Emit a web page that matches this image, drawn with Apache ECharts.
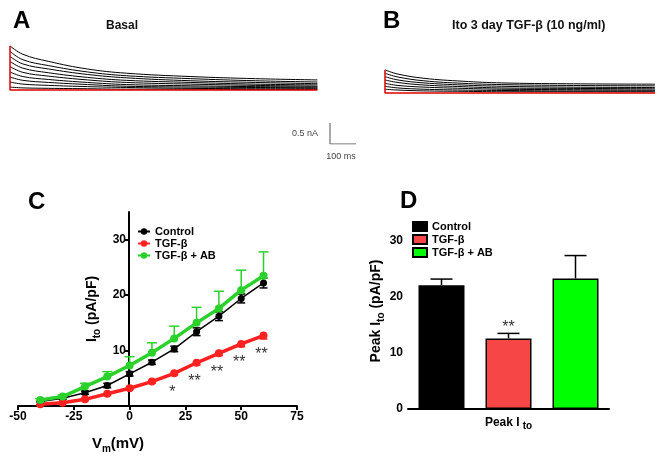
<!DOCTYPE html>
<html>
<head>
<meta charset="utf-8">
<script src="https://cdn.jsdelivr.net/npm/echarts@6/dist/echarts.min.js"></script>
<style>html,body{margin:0;padding:0;background:#fff}#container{width:661px;height:456px}</style>
</head>
<body>
<div id="container"></div>
<script>
// panels A / B : current traces (nA) read at these times (ms)
var traceTimeA = [0, 50, 150, 300, 450, 700, 950, 1190];
var tracesA = [
  [1.05, 0.85, 0.68, 0.50, 0.40, 0.32, 0.27, 0.24],
  [0.92, 0.72, 0.58, 0.43, 0.34, 0.27, 0.22, 0.19],
  [0.80, 0.62, 0.50, 0.37, 0.29, 0.22, 0.18, 0.15],
  [0.68, 0.52, 0.41, 0.30, 0.23, 0.18, 0.14, 0.12],
  [0.56, 0.42, 0.33, 0.24, 0.18, 0.14, 0.11, 0.09],
  [0.43, 0.32, 0.25, 0.18, 0.13, 0.10, 0.08, 0.07],
  [0.31, 0.23, 0.18, 0.13, 0.09, 0.07, 0.06, 0.05],
  [0.19, 0.14, 0.11, 0.08, 0.06, 0.04, 0.03, 0.03],
  [0.07, 0.05, 0.04, 0.03, 0.02, 0.02, 0.01, 0.01]
];
var traceTimeB = [0, 50, 150, 300, 450, 700, 1040];
var tracesB = [
  [0.55, 0.45, 0.35, 0.28, 0.24, 0.22, 0.21],
  [0.47, 0.38, 0.29, 0.23, 0.20, 0.18, 0.17],
  [0.39, 0.31, 0.24, 0.19, 0.16, 0.14, 0.13],
  [0.31, 0.25, 0.19, 0.15, 0.12, 0.11, 0.10],
  [0.23, 0.18, 0.14, 0.11, 0.09, 0.08, 0.07],
  [0.16, 0.12, 0.09, 0.07, 0.06, 0.05, 0.05],
  [0.09, 0.07, 0.05, 0.04, 0.03, 0.03, 0.03]
];
var scaleBar = [100, 0.5]; // ms, nA

// panel C : I-V curves
var vm = [-40, -30, -20, -10, 0, 10, 20, 30, 40, 50, 60];
var control = [0.8, 1.4, 2.4, 3.7, 5.8, 7.9, 10.3, 13.4, 16.2, 19.4, 22.2];
var controlErr = [0.1, 0.2, 0.3, 0.4, 0.4, 0.4, 0.5, 0.7, 0.8, 0.8, 0.9];
var tgf = [0.3, 0.6, 1.2, 2.2, 3.2, 4.4, 5.9, 7.8, 9.5, 11.2, 12.7];
var tgfErr = [0.1, 0.1, 0.2, 0.2, 0.2, 0.3, 0.3, 0.4, 0.4, 0.5, 0.6];
var tgfAB = [1.1, 1.7, 3.5, 5.3, 7.3, 9.6, 12.2, 15.0, 17.6, 20.9, 23.5];
var tgfABErr = [0.2, 0.3, 0.6, 0.9, 1.6, 1.8, 2.2, 2.8, 3.1, 3.6, 4.3];
var sigC = ['', '', '', '', '', '', '*', '**', '**', '**', '**'];

// panel D : peak Ito
var groups = ['Control', 'TGF-β', 'TGF-β + AB'];
var peak = [22.1, 12.6, 23.3];
var peakErr = [1.1, 0.9, 4.1];
var sigD = ['', '**', ''];

var FONT = 'Liberation Sans';
var colC = ['#000000', '#ff2020', '#2ad12a'];
var colD = ['#000000', '#f64646', '#00ff00'];

var dom = document.getElementById('container');
var myChart = echarts.init(dom);

function traceSeries(times, vals, gi) {
  return {
    type: 'line', xAxisIndex: gi, yAxisIndex: gi, silent: true,
    showSymbol: false, smooth: 0.4, animation: false,
    lineStyle: { color: '#000', width: 1 },
    data: times.map(function (t, i) { return [t, vals[i]]; })
  };
}

function seg(x1, y1, x2, y2, color, w) {
  return { type: 'line', shape: { x1: x1, y1: y1, x2: x2, y2: y2 }, style: { stroke: color, lineWidth: w } };
}

function errC(ys, errs, up, down, color, w, cap, sig) {
  return {
    type: 'custom', xAxisIndex: 3, yAxisIndex: 3, silent: true,
    data: vm.map(function (x, i) { return [x, ys[i], errs[i]]; }),
    renderItem: function (params, api) {
      var x = api.value(0), y = api.value(1), e = api.value(2);
      var p = api.coord([x, y]);
      var kids = [];
      if (up) {
        var t = api.coord([x, y + e]);
        kids.push(seg(p[0], p[1], p[0], t[1], color, w), seg(p[0] - cap, t[1], p[0] + cap, t[1], color, w));
      }
      if (down) {
        var b = api.coord([x, y - e]);
        kids.push(seg(p[0], p[1], p[0], b[1], color, w), seg(p[0] - cap, b[1], p[0] + cap, b[1], color, w));
      }
      if (sig && sig[params.dataIndex]) {
        kids.push({ type: 'text', style: { text: sig[params.dataIndex], x: p[0] - 2, y: p[1] + 19,
          align: 'center', verticalAlign: 'middle', font: '16px ' + FONT, fill: '#333' } });
      }
      return { type: 'group', children: kids };
    }
  };
}

var lineSeries = [control, tgf, tgfAB].map(function (ys, k) {
  return {
    name: groups[k], type: 'line', xAxisIndex: 3, yAxisIndex: 3,
    symbol: 'circle', symbolSize: k === 0 ? 7 : 8,
    itemStyle: { color: colC[k] },
    lineStyle: { color: colC[k], width: k === 0 ? 1.5 : 3.5 },
    data: vm.map(function (x, i) { return [x, ys[i]]; })
  };
});

var barW = 46, barGapPx = 21;

var series = [];
tracesA.forEach(function (v) { series.push(traceSeries(traceTimeA, v, 0)); });
series.push({
  type: 'line', xAxisIndex: 0, yAxisIndex: 0, showSymbol: false, silent: true,
  lineStyle: { color: '#e00000', width: 1.5 },
  data: [[0, tracesA[0][0]], [0, 0], [traceTimeA[traceTimeA.length - 1], 0]]
});
tracesB.forEach(function (v) { series.push(traceSeries(traceTimeB, v, 1)); });
series.push({
  type: 'line', xAxisIndex: 1, yAxisIndex: 1, showSymbol: false, silent: true,
  lineStyle: { color: '#e00000', width: 1.5 },
  data: [[0, tracesB[0][0]], [0, 0], [traceTimeB[traceTimeB.length - 1], 0]]
});
series.push({
  type: 'line', xAxisIndex: 2, yAxisIndex: 2, showSymbol: false, silent: true,
  lineStyle: { color: '#555', width: 1 },
  data: [[0, scaleBar[1]], [0, 0], [scaleBar[0], 0]]
});
series.push(lineSeries[0], errC(control, controlErr, true, true, colC[0], 1.5, 4));
series.push(lineSeries[1], errC(tgf, tgfErr, false, true, colC[1], 1.5, 4, sigC));
series.push(lineSeries[2], errC(tgfAB, tgfABErr, true, false, colC[2], 1.5, 5));
groups.forEach(function (g, i) {
  series.push({
    name: 'D:' + g, type: 'bar', xAxisIndex: 4, yAxisIndex: 4,
    barWidth: barW, barGap: (barGapPx / barW * 100) + '%',
    itemStyle: { color: colD[i], borderColor: '#000', borderWidth: 1.5 },
    data: [peak[i]]
  });
});
series.push({
  type: 'custom', xAxisIndex: 4, yAxisIndex: 4, silent: true,
  data: peak.map(function (v, i) { return [0, v, peakErr[i]]; }),
  renderItem: function (params, api) {
    var i = params.dataIndex;
    var off = (i - 1) * (barW + barGapPx);
    var p = api.coord([0, api.value(1)]);
    var t = api.coord([0, api.value(1) + api.value(2)]);
    var x = p[0] + off;
    var kids = [seg(x, p[1], x, t[1], '#000', 1.5), seg(x - 11, t[1], x + 11, t[1], '#000', 1.5)];
    if (sigD[i]) {
      kids.push({ type: 'text', style: { text: sigD[i], x: x, y: t[1] - 6, align: 'center',
        verticalAlign: 'middle', font: '16px ' + FONT, fill: '#333' } });
    }
    return { type: 'group', children: kids };
  }
});

var labelStyle = { fontFamily: FONT, fontWeight: 'bold', fontSize: 12, color: '#000' };
var axisLine = { lineStyle: { color: '#000', width: 2 } };
var nameRich = {
  a: { fontFamily: FONT, fontWeight: 'bold', fontSize: 14, color: '#000', lineHeight: 20, verticalAlign: 'middle' },
  b: { fontFamily: FONT, fontWeight: 'bold', fontSize: 10, color: '#000', lineHeight: 10, verticalAlign: 'bottom' }
};

var option = {
  animation: false,
  backgroundColor: '#fff',
  grid: [
    { left: 10, top: 43.8, width: 310, height: 50.4, outerBoundsMode: 'none', containLabel: false },
    { left: 385, top: 46.8, width: 270, height: 50.4, outerBoundsMode: 'none', containLabel: false },
    { left: 330, top: 123, width: 26, height: 21, outerBoundsMode: 'none', containLabel: false },
    { left: 18, top: 212, width: 279, height: 194, outerBoundsMode: 'none', containLabel: false },
    { left: 408, top: 213, width: 201, height: 196, outerBoundsMode: 'none', containLabel: false }
  ],
  xAxis: [
    { gridIndex: 0, type: 'value', min: 0, max: 1200, show: false },
    { gridIndex: 1, type: 'value', min: 0, max: 1040, show: false },
    { gridIndex: 2, type: 'value', min: 0, max: 100, show: false },
    {
      gridIndex: 3, type: 'value', min: -50, max: 75, interval: 25,
      axisLine: Object.assign({ onZero: false }, axisLine), splitLine: { show: false },
      axisTick: { length: 4, lineStyle: { width: 2, color: '#000' } },
      axisLabel: Object.assign({ margin: 5 }, labelStyle)
    },
    {
      gridIndex: 4, type: 'category', data: ['Peak I'],
      axisLine: axisLine,
      axisTick: { alignWithLabel: true, length: 4, lineStyle: { width: 2, color: '#000' } },
      axisLabel: {
        margin: 6,
        formatter: function (v) { return '{a|' + v + '}{b|to}'; },
        rich: {
          a: { fontFamily: FONT, fontWeight: 'bold', fontSize: 12, color: '#000', lineHeight: 16 },
          b: { fontFamily: FONT, fontWeight: 'bold', fontSize: 10, color: '#000', lineHeight: 10, verticalAlign: 'bottom', padding: [0, 0, 0, 3] }
        }
      }
    }
  ],
  yAxis: [
    { gridIndex: 0, type: 'value', min: -0.1, max: 1.1, show: false },
    { gridIndex: 1, type: 'value', min: -0.1, max: 1.1, show: false },
    { gridIndex: 2, type: 'value', min: 0, max: 0.5, show: false },
    {
      // y axis drawn at Vm = 0 mV
      gridIndex: 3, type: 'value', min: 0, max: 35, position: 'left', offset: -111,
      axisLine: Object.assign({ onZero: false }, axisLine), splitLine: { show: false },
      axisTick: { length: 4, customValues: [10, 20, 30], lineStyle: { width: 2, color: '#000' } },
      axisLabel: Object.assign({ margin: 3, customValues: [10, 20, 30] }, labelStyle),
      name: '{a|I}{b|to}{a| (pA/pF)}', nameLocation: 'middle', nameRotate: 90, nameGap: 27,
      nameTextStyle: { rich: nameRich }
    },
    {
      gridIndex: 4, type: 'value', min: 0, max: 35,
      axisLine: axisLine, splitLine: { show: false },
      axisTick: { length: 4, customValues: [0, 10, 20, 30], lineStyle: { width: 2, color: '#000' } },
      axisLabel: Object.assign({ margin: 5, customValues: [0, 10, 20, 30] }, labelStyle),
      name: '{a|Peak I}{b|to}{a| (pA/pF)}', nameLocation: 'middle', nameRotate: 90, nameGap: 20,
      nameTextStyle: { rich: nameRich }
    }
  ],
  legend: [
    {
      data: groups, orient: 'vertical', left: 137, top: 226, itemWidth: 12, itemHeight: 8, itemGap: 1, padding: 0,
      selectedMode: false, textStyle: { fontFamily: FONT, fontWeight: 'bold', fontSize: 11, color: '#000' }
    },
    {
      data: groups.map(function (g) { return { name: 'D:' + g, icon: 'rect' }; }),
      formatter: function (n) { return n.slice(2); },
      orient: 'vertical', left: 412, top: 221, itemWidth: 14, itemHeight: 9, itemGap: 2, padding: 0,
      selectedMode: false, textStyle: { fontFamily: FONT, fontWeight: 'bold', fontSize: 11, color: '#000' }
    }
  ],
  graphic: [
    { type: 'text', left: 13, top: 9, style: { text: 'A', font: 'bold 24px ' + FONT, fill: '#000' } },
    { type: 'text', left: 383, top: 9, style: { text: 'B', font: 'bold 24px ' + FONT, fill: '#000' } },
    { type: 'text', left: 28, top: 190, style: { text: 'C', font: 'bold 24px ' + FONT, fill: '#000' } },
    { type: 'text', left: 400, top: 189, style: { text: 'D', font: 'bold 24px ' + FONT, fill: '#000' } },
    { type: 'text', x: 122, y: 26, style: { text: 'Basal', font: 'bold 12px ' + FONT, fill: '#111', align: 'center', verticalAlign: 'middle' } },
    { type: 'text', x: 452, y: 26, style: { text: 'Ito 3 day TGF-β (10 ng/ml)', font: 'bold 12.5px ' + FONT, fill: '#111', verticalAlign: 'middle' } },
    { type: 'text', x: 318, y: 134, style: { text: '0.5 nA', font: '9px ' + FONT, fill: '#444', align: 'right', verticalAlign: 'middle' } },
    { type: 'text', x: 341, y: 157, style: { text: '100 ms', font: '9px ' + FONT, fill: '#444', align: 'center', verticalAlign: 'middle' } },
    {
      type: 'text', x: 118, y: 444,
      style: {
        text: '{a|V}{b|m}{a|(mV)}', align: 'center', verticalAlign: 'middle',
        rich: {
          a: { fontFamily: FONT, fontWeight: 'bold', fontSize: 15, fill: '#000', lineHeight: 20, verticalAlign: 'middle' },
          b: { fontFamily: FONT, fontWeight: 'bold', fontSize: 10, fill: '#000', lineHeight: 10, verticalAlign: 'bottom' }
        }
      }
    }
  ],
  series: series
};

if (option && typeof option === 'object') {
  myChart.setOption(option, true);
}
</script>
</body>
</html>
